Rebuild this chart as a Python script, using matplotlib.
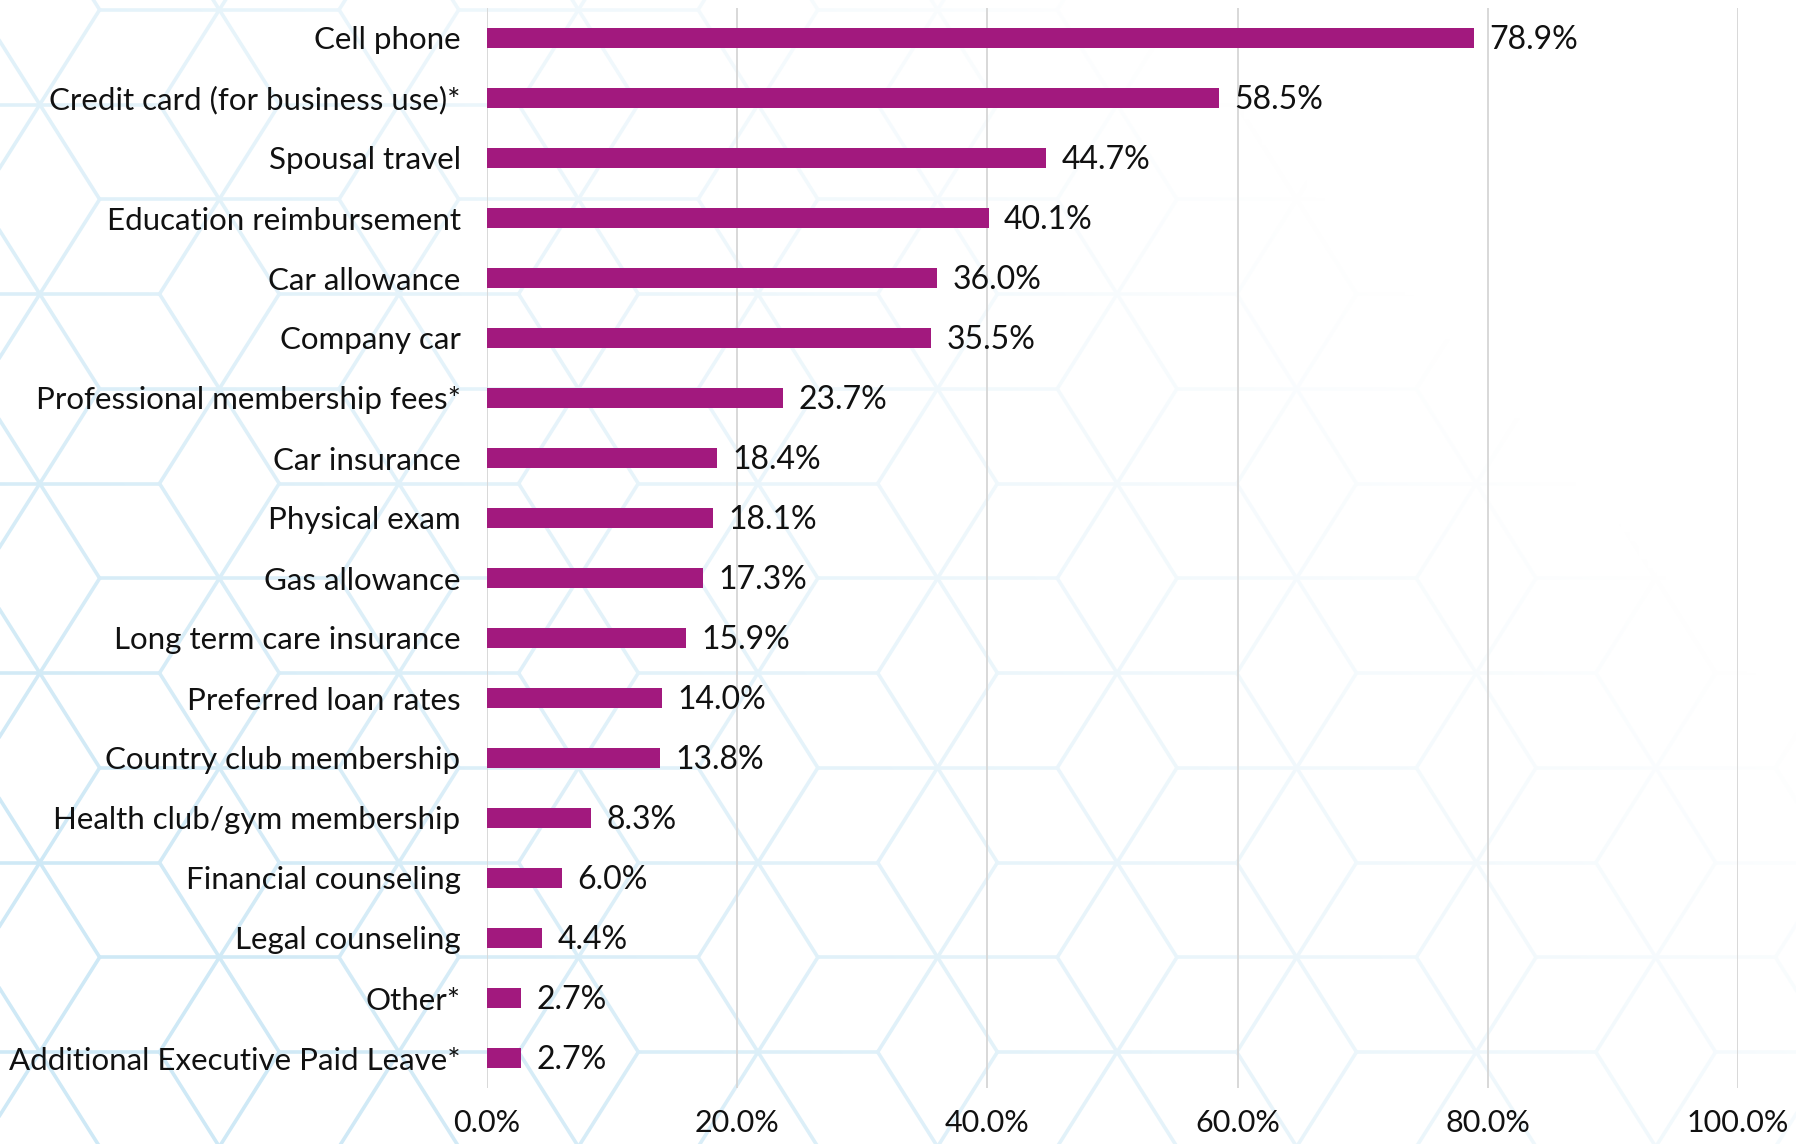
import numpy as np
import matplotlib.pyplot as plt
from matplotlib.collections import LineCollection

plt.rcParams['font.family'] = ['Lato', 'DejaVu Sans']

categories = [
    "Cell phone",
    "Credit card (for business use)*",
    "Spousal travel",
    "Education reimbursement",
    "Car allowance",
    "Company car",
    "Professional membership fees*",
    "Car insurance",
    "Physical exam",
    "Gas allowance",
    "Long term care insurance",
    "Preferred loan rates",
    "Country club membership",
    "Health club/gym membership",
    "Financial counseling",
    "Legal counseling",
    "Other*",
    "Additional Executive Paid Leave*",
]
values = [78.9, 58.5, 44.7, 40.1, 36.0, 35.5, 23.7, 18.4, 18.1,
          17.3, 15.9, 14.0, 13.8, 8.3, 6.0, 4.4, 2.7, 2.7]
xticks = [0, 20, 40, 60, 80, 100]

BAR = "#a2197e"
TEXT = "#111111"
W, H = 1796, 1144

fig = plt.figure(figsize=(W / 100, H / 100), dpi=100)

# --- hexagon line pattern behind the chart (pixel coords) ---
bg = fig.add_axes([0, 0, 1, 1], zorder=0)
bg.set_xlim(0, W)
bg.set_ylim(H, 0)
bg.axis("off")

row_h = 94.75
step = 119.7
ref_x, ref_y = 758, 673

# every "star" point gets a horizontal bar and two crossing diagonals
segs = []
for r in range(-2, 16):
    y = ref_y + (r - 7) * row_h
    cx0 = ref_x + (r - 7) * step * 1.5
    for k in range(-12, 12):
        c = cx0 + 3 * step * k
        if -300 < c < W + 300:
            segs.append([(c - step, y), (c + step, y)])
            segs.append([(c - step / 2, y - row_h), (c + step / 2, y + row_h)])
            segs.append([(c + step / 2, y - row_h), (c - step / 2, y + row_h)])

bg.add_collection(LineCollection(segs, colors="#cfe9f6", linewidths=2.6,
                                 capstyle="round"))

# white wash that fades the pattern toward the upper right
fx, fy = np.meshgrid(np.linspace(0, 1, 200), np.linspace(1, 0, 130))
fade = np.clip(0.95 * fx + 0.55 * fy - 0.15, 0, 1)
wash = np.ones((130, 200, 4))
wash[..., 3] = fade
bg.imshow(wash, extent=[0, W, H, 0], interpolation="bilinear", aspect="auto", zorder=2)

# --- bar chart ---
ax = fig.add_axes([487 / W, 1 - 1088 / H, (1738 - 487) / W, (1088 - 8) / H], zorder=2)
ax.patch.set_alpha(0)

ypos = np.arange(len(categories))
ax.barh(ypos, values, height=0.32, color=BAR, zorder=3)

for i, v in enumerate(values):
    ax.annotate(f"{v:.1f}%", (v, i), xytext=(11, -1.5), textcoords="offset points",
                va="center", ha="left", fontsize=23, color=TEXT)

ax.set_xlim(0, 100)
ax.set_ylim(len(categories) - 0.5, -0.5)
ax.set_yticks(ypos, categories)
ax.set_xticks(xticks, [f"{v:.1f}%" for v in xticks])
ax.tick_params(axis="both", length=0, labelcolor=TEXT)
ax.tick_params(axis="y", pad=19, labelsize=22.5)
ax.tick_params(axis="x", pad=15, labelsize=22)
for sp in ax.spines.values():
    sp.set_visible(False)
ax.grid(axis="x", color="#d6d6d6", linewidth=1.3)
ax.grid(axis="y", visible=False)
ax.set_axisbelow(True)

fig.savefig("out.png", dpi=100)
